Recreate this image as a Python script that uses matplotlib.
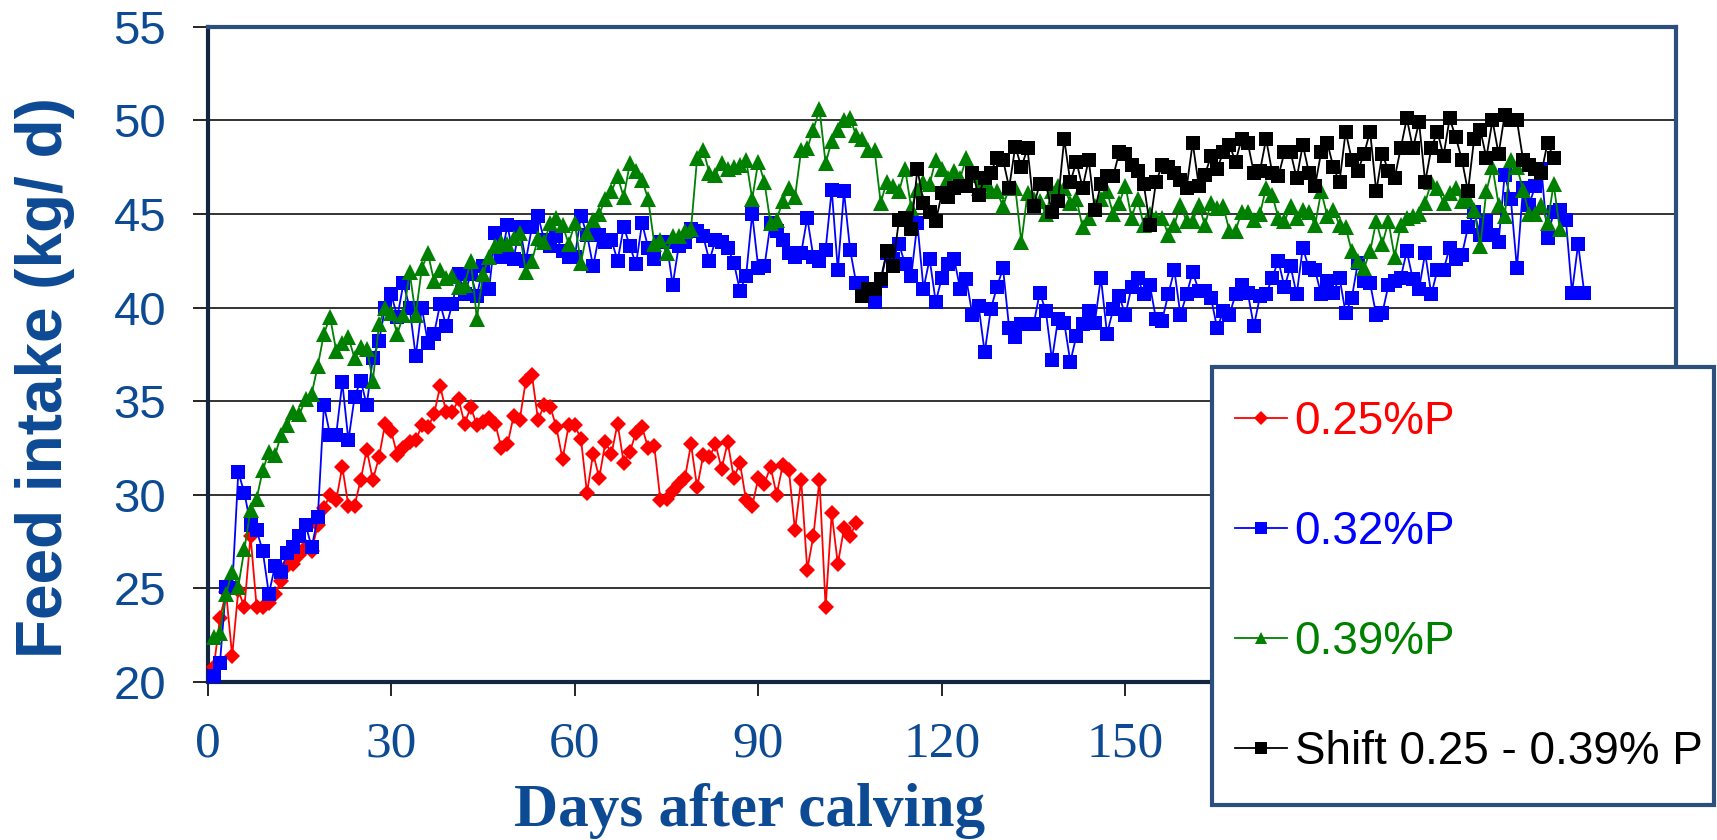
import matplotlib
matplotlib.use("Agg")  # sem display
import matplotlib.pyplot as plt
from matplotlib.patches import Rectangle
import numpy as np

# Consumo diário (kg/d) por tratamento, lido dia a dia do gráfico original
dia_inicial_025 = 1
consumo_025 = [
    20.8, 23.4, 24.8, 21.4, 24.9, 24.0, 27.8, 24.0, 24.0, 24.2,
    24.7, 25.4, 26.2, 26.3, 26.8, 27.2, 27.0, 28.4, 29.3, 30.0,
    29.7, 31.5, 29.4, 29.4, 30.8, 32.4, 30.8, 32.0, 33.8, 33.4,
    32.1, 32.5, 32.8, 32.9, 33.7, 33.6, 34.3, 35.8, 34.4, 34.4,
    35.1, 33.8, 34.7, 33.7, 33.9, 34.1, 33.8, 32.5, 32.7, 34.2,
    34.0, 36.1, 36.4, 34.0, 34.8, 34.7, 33.6, 31.9, 33.7, 33.7,
    33.0, 30.1, 32.2, 30.9, 32.8, 32.2, 33.8, 31.7, 32.3, 33.3,
    33.6, 32.5, 32.6, 29.7, 29.8, 30.2, 30.6, 30.9, 32.7, 30.4,
    32.1, 32.0, 32.7, 31.4, 32.8, 30.9, 31.7, 29.7, 29.4, 30.9,
    30.6, 31.5, 30.0, 31.6, 31.3, 28.1, 30.8, 26.0, 27.8, 30.8,
    24.0, 29.0, 26.3, 28.2, 27.8, 28.5,
]

dia_inicial_032 = 1
consumo_032 = [
    20.3, 21.0, 25.1, 25.0, 31.2, 30.1, 28.4, 28.1, 27.0, 24.7,
    26.2, 25.9, 26.9, 27.2, 27.8, 28.4, 27.2, 28.8, 34.8, 33.2,
    33.2, 36.0, 32.9, 35.2, 36.1, 34.8, 37.3, 38.2, 40.0, 40.7,
    39.5, 41.3, 40.0, 37.4, 40.0, 38.1, 38.6, 40.2, 39.0, 40.2,
    41.8, 40.7, 41.8, 40.6, 42.2, 41.0, 44.0, 42.7, 44.4, 42.6,
    44.3, 42.5, 44.3, 44.9, 43.6, 43.3, 43.8, 43.0, 42.7, 42.7,
    44.9, 43.9, 42.2, 43.9, 43.5, 43.6, 42.5, 44.3, 43.3, 42.3,
    44.5, 43.2, 42.6, 43.5, 43.5, 41.2, 43.3, 43.5, 44.2, 44.1,
    43.8, 42.5, 43.6, 43.5, 43.2, 42.4, 40.9, 41.7, 45.0, 42.1,
    42.2, 44.5, 44.1, 43.6, 42.9, 42.7, 42.9, 44.8, 42.7, 42.5,
    43.1, 46.3, 42.0, 46.2, 43.1, 41.3, 41.3, 40.8, 40.3, 41.4,
    42.9, 42.6, 43.4, 42.3, 41.7, 44.5, 41.0, 42.6, 40.3, 41.6,
    42.3, 42.6, 41.0, 41.5, 39.6, 40.1, 37.6, 39.9, 41.1, 42.1,
    38.9, 38.4, 39.1, 39.1, 39.1, 40.8, 39.8, 37.2, 39.4, 39.2,
    37.1, 38.5, 39.1, 39.8, 39.2, 41.6, 38.6, 39.9, 40.6, 39.6,
    41.1, 41.6, 40.7, 41.2, 39.4, 39.3, 40.7, 42.0, 39.6, 40.7,
    41.9, 40.9, 40.9, 40.5, 38.9, 39.8, 39.6, 40.7, 41.2, 40.8,
    39.0, 40.6, 40.7, 41.6, 42.5, 41.1, 42.2, 40.7, 43.2, 42.1,
    42.0, 40.7, 41.4, 40.8, 41.6, 39.7, 40.5, 42.4, 41.4, 41.3,
    39.6, 39.7, 41.2, 41.4, 41.6, 43.0, 41.5, 41.0, 42.9, 40.7,
    42.0, 42.0, 43.2, 42.6, 42.8, 44.3, 45.1, 43.9, 44.6, 43.9,
    43.5, 47.1, 45.8, 42.1, 46.4, 45.5, 46.5, 47.4, 43.7, 45.1,
    45.2, 44.7, 40.8, 43.4, 40.8,
]

dia_inicial_039 = 1
consumo_039 = [
    22.4, 22.6, 24.7, 25.9, 25.1, 27.1, 29.2, 29.8, 31.3, 32.3,
    32.1, 33.2, 33.7, 34.4, 34.3, 35.1, 35.4, 36.9, 38.6, 39.5,
    37.7, 38.1, 38.4, 37.3, 37.9, 37.8, 36.1, 39.1, 40.0, 39.7,
    38.6, 39.6, 41.9, 39.6, 42.1, 42.9, 41.4, 42.0, 41.6, 41.7,
    41.1, 41.2, 42.5, 39.4, 41.8, 42.7, 43.3, 43.5, 43.4, 43.7,
    44.0, 41.9, 42.5, 43.7, 43.5, 44.5, 44.8, 44.4, 43.4, 44.5,
    42.4, 44.0, 44.7, 45.0, 45.8, 46.2, 47.0, 45.9, 47.7, 47.3,
    46.8, 45.8, 43.4, 43.6, 42.9, 43.8, 43.8, 44.1, 44.2, 48.0,
    48.4, 47.2, 47.1, 47.7, 47.4, 47.5, 47.6, 47.9, 45.8, 47.8,
    46.7, 44.5, 44.7, 45.7, 46.4, 45.9, 48.4, 48.5, 49.5, 50.6,
    47.7, 48.9, 49.5, 50.0, 50.1, 49.2, 49.0, 48.4, 48.4, 45.6,
    46.7, 46.5, 46.2, 47.4, 45.3, 46.3, 46.7, 46.6, 47.9, 47.4,
    46.9, 47.3, 46.9, 48.0, 47.1, 46.4, 46.6, 46.2, 46.2, 45.4,
    46.4, 46.4, 43.5, 46.1, 45.8, 45.7, 45.0, 46.2, 46.5, 46.4,
    45.6, 45.8, 44.3, 44.8, 45.4, 45.8, 46.2, 45.0, 45.6, 46.5,
    44.8, 45.8, 44.4, 45.0, 44.8, 44.8, 43.9, 44.4, 45.5, 44.6,
    44.6, 45.5, 44.4, 45.6, 45.3, 45.4, 44.1, 44.1, 45.1, 45.1,
    44.7, 45.0, 46.4, 46.0, 44.8, 44.6, 45.4, 44.8, 45.2, 45.1,
    44.4, 46.2, 44.9, 45.2, 44.4, 44.3, 43.0, 42.5, 42.1, 43.0,
    44.6, 43.4, 44.6, 42.7, 44.4, 44.8, 44.9, 45.0, 45.6, 46.7,
    46.4, 45.6, 46.1, 46.4, 45.7, 45.8, 45.2, 43.3, 46.2, 47.5,
    45.5, 44.9, 47.9, 47.5, 46.3, 45.0, 45.0, 45.5, 44.5, 46.6,
    44.2,
]

dia_inicial_shift = 107
consumo_shift = [
    40.6, 41.0, 41.0, 41.5, 43.0, 42.2, 44.7, 44.8, 44.2, 47.4,
    45.6, 45.1, 44.6, 46.1, 45.9, 46.4, 46.5, 46.5, 47.2, 46.0,
    46.9, 47.2, 48.0, 47.9, 46.4, 48.6, 47.5, 48.5, 45.4, 46.6,
    46.6, 45.1, 45.7, 49.0, 46.7, 47.8, 46.4, 47.9, 45.2, 46.6,
    47.0, 47.0, 48.3, 48.2, 47.6, 47.3, 46.6, 44.4, 46.7, 47.6,
    47.5, 47.2, 46.8, 46.4, 48.8, 46.5, 47.1, 48.1, 47.4, 48.3,
    48.7, 47.8, 49.0, 48.8, 47.2, 47.3, 49.0, 47.2, 47.0, 48.3,
    48.3, 46.9, 48.7, 47.2, 46.5, 48.3, 48.8, 47.5, 46.7, 49.4,
    47.9, 47.3, 48.2, 49.4, 46.2, 48.2, 47.3, 46.9, 48.5, 50.1,
    48.5, 49.9, 46.7, 48.5, 49.4, 48.1, 50.1, 49.1, 47.9, 46.2,
    49.0, 49.5, 48.0, 50.0, 48.2, 50.3, 50.0, 50.0, 47.9, 47.6,
    47.4, 47.2, 48.8, 48.0,
]

rotulos = ["0.25%P", "0.32%P", "0.39%P", "Shift 0.25 - 0.39% P"]
cores = ["#FF0000", "#0000FF", "#008000", "#000000"]
marcadores = ["D", "s", "^", "s"]
tamanhos = [8.3, 10.5, 11.5, 10.0]

AZUL_TEXTO = "#0D4A94"
AZUL_BORDA = "#2C4F7C"

W, H = 1717, 840
fig = plt.figure(figsize=(W / 100, H / 100), dpi=100)
ax = fig.add_axes([207.7 / W, 1 - 682 / H, (1676 - 207.7) / W, (682 - 26.7) / H])

series = [
    (dia_inicial_025, consumo_025),
    (dia_inicial_032, consumo_032),
    (dia_inicial_039, consumo_039),
    (dia_inicial_shift, consumo_shift),
]
for i, (inicio, valores) in enumerate(series):
    dias = np.arange(inicio, inicio + len(valores))
    ax.plot(dias, valores, color=cores[i], marker=marcadores[i],
            markersize=tamanhos[i], markeredgewidth=0, linewidth=1.3,
            label=rotulos[i], zorder=3 + i, clip_on=False)

ax.set_xlim(0, 240)
ax.set_ylim(20, 55)
ax.set_xticks(np.arange(0, 151, 30))
ax.set_yticks(np.arange(20, 56, 5))
ax.yaxis.grid(True, color="#111111", linewidth=1.2, zorder=1)
ax.set_axisbelow(True)

for lado in ["top", "right"]:
    ax.spines[lado].set_color(AZUL_BORDA)
    ax.spines[lado].set_linewidth(3)
for lado in ["left", "bottom"]:
    ax.spines[lado].set_color("#14253F")
    ax.spines[lado].set_linewidth(3)

ax.tick_params(axis="y", direction="out", length=11, width=1.2, pad=19,
               labelsize=34, labelcolor=AZUL_TEXTO, color="black")
ax.tick_params(axis="x", direction="out", length=10, width=1.2, pad=18,
               labelsize=37, labelcolor=AZUL_TEXTO, color="black")
for t in ax.get_yticklabels():
    t.set_family("Liberation Sans")
for t in ax.get_xticklabels():
    t.set_family("Liberation Serif")

fig.text(45 / W, 1 - 378 / H, "Feed intake (kg/ d)", rotation=90,
         ha="center", va="center", fontsize=46, fontweight="bold",
         color=AZUL_TEXTO, family="Liberation Sans")
# a legenda do eixo x fica rente à borda inferior, como no original
fig.text(750 / W, 1 - 826 / H, "Days after calving", ha="center",
         va="baseline", fontsize=44, fontweight="bold",
         color=AZUL_TEXTO, family="Liberation Serif")

# moldura da legenda desenhada à parte (padding vertical maior que o horizontal)
moldura = Rectangle((1212 / W, 1 - 805 / H), (1714 - 1212) / W, (805 - 367) / H,
                    transform=fig.transFigure, facecolor="white",
                    edgecolor=AZUL_BORDA, linewidth=3, zorder=10)
fig.patches.append(moldura)

leg = fig.legend(loc="center left", bbox_to_anchor=(1235 / W, 1 - 587.5 / H),
                 bbox_transform=fig.transFigure, borderaxespad=0,
                 borderpad=0, frameon=False,
                 prop={"family": "Liberation Sans", "size": 33},
                 labelcolor="linecolor", handlelength=1.13,
                 handletextpad=0.17, labelspacing=1.44, markerscale=0.8)
leg.set_zorder(20)

fig.savefig("out.png", dpi=100)
